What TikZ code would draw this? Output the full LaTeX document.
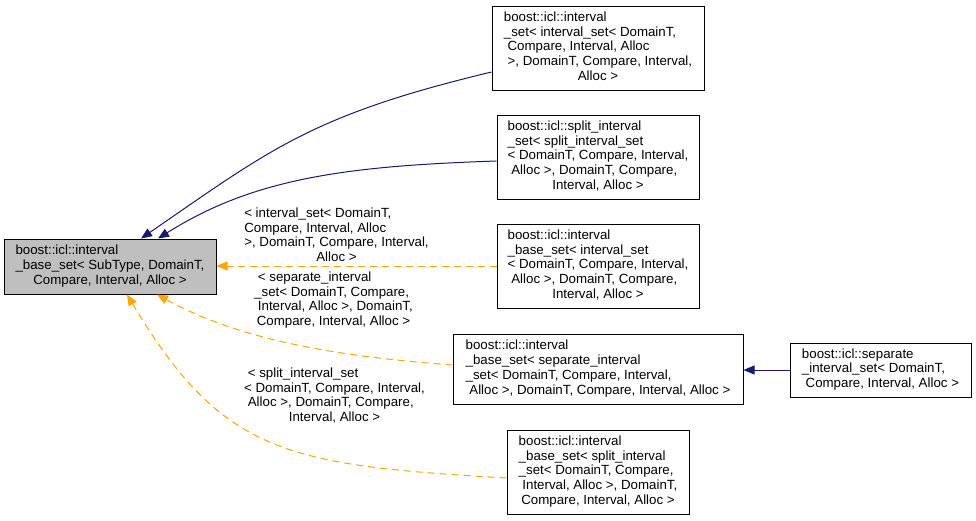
\documentclass[tikz,border=0pt]{standalone}
\usepackage{fontspec}
\setmainfont{Liberation Sans}
\usetikzlibrary{arrows.meta}
\definecolor{edgeblue}{HTML}{191970}
\definecolor{edgeorange}{HTML}{FFA500}
\definecolor{basegray}{HTML}{BFBFBF}
\newcommand{\lastrow}[1]{\multicolumn{1}{@{}c@{}}{#1}}
\begin{document}
\begin{tikzpicture}[x=1pt,y=-1pt,
  txt/.style={font=\fontsize{13.3}{14.8}\selectfont},
  cls/.style={txt, draw=black, line width=1pt, inner sep=0pt, fill=white},
  lbl/.style={txt, inner sep=0pt},
  pub/.style={draw=edgeblue, line width=1pt, -{Triangle[length=11pt,width=9pt]}},
  tmpl/.style={draw=edgeorange, line width=1pt, dash pattern=on 7pt off 5pt, -{Triangle[length=11pt,width=9pt]}}]
\useasboundingbox (0,0) rectangle (976,520);
\fill[white] (0,0) rectangle (976,520);

\node[cls, fill=basegray, minimum width=212pt, minimum height=55pt] (main) at (110,266.5)
 {\begin{tabular}{@{}l@{}}boost::icl::interval\\ \_base\_set< SubType, DomainT,\\ \lastrow{Compare, Interval, Alloc >}\end{tabular}};

\node[cls, minimum width=212pt, minimum height=84pt] (n1) at (598,48)
 {\begin{tabular}{@{}l@{}}boost::icl::interval\\ \_set< interval\_set< DomainT,\\ \ Compare, Interval, Alloc\\ \ >, DomainT, Compare, Interval,\\ \lastrow{Alloc >}\end{tabular}};

\node[cls, minimum width=202pt, minimum height=84pt] (n2) at (598,157)
 {\begin{tabular}{@{}l@{}}boost::icl::split\_interval\\ \_set< split\_interval\_set\\ < DomainT, Compare, Interval,\\ \ Alloc >, DomainT, Compare,\\ \lastrow{Interval, Alloc >}\end{tabular}};

\node[cls, minimum width=202pt, minimum height=84pt] (n3) at (598,266)
 {\begin{tabular}{@{}l@{}}boost::icl::interval\\ \_base\_set< interval\_set\\ < DomainT, Compare, Interval,\\ \ Alloc >, DomainT, Compare,\\ \lastrow{Interval, Alloc >}\end{tabular}};

\node[cls, minimum width=290pt, minimum height=70pt] (n4) at (598,369)
 {\begin{tabular}{@{}l@{}}boost::icl::interval\\ \_base\_set< separate\_interval\\ \_set< DomainT, Compare, Interval,\\ \ Alloc >, DomainT, Compare, Interval, Alloc >\end{tabular}};

\node[cls, minimum width=181pt, minimum height=54pt] (n5) at (880.5,370)
 {\begin{tabular}{@{}l@{}}boost::icl::separate\\ \_interval\_set< DomainT,\\ \ Compare, Interval, Alloc >\end{tabular}};

\node[cls, minimum width=182pt, minimum height=84pt] (n6) at (598,472)
 {\begin{tabular}{@{}l@{}}boost::icl::interval\\ \_base\_set< split\_interval\\ \_set< DomainT, Compare,\\ \ Interval, Alloc >, DomainT,\\ \lastrow{Compare, Interval, Alloc >}\end{tabular}};

\node[lbl] (l1) at (336.5,236.5)
 {\begin{tabular}{@{}l@{}}< interval\_set< DomainT,\\ Compare, Interval, Alloc\\ >, DomainT, Compare, Interval,\\ \lastrow{Alloc >}\end{tabular}};
\node[lbl] (l2) at (333.5,300.5)
 {\begin{tabular}{@{}l@{}}\ < separate\_interval\\ \_set< DomainT, Compare,\\ \ Interval, Alloc >, DomainT,\\ \lastrow{Compare, Interval, Alloc >}\end{tabular}};
\node[lbl] (l3) at (334.5,396.5)
 {\begin{tabular}{@{}l@{}}\ < split\_interval\_set\\ < DomainT, Compare, Interval,\\ \ Alloc >, DomainT, Compare,\\ \lastrow{Interval, Alloc >}\end{tabular}};

\draw[pub] ([yshift=-24pt]n1.west) .. controls (312,115) and (271,149) .. ([xshift=31pt]main.north);
\draw[pub] ([yshift=-4pt]n2.west) .. controls (347,166) and (254,178) .. ([xshift=48pt]main.north);
\draw[tmpl] (n3.west) -- (n3.west -| main.east);
\draw[tmpl] ([yshift=4pt]n4.west) .. controls (332,356) and (238,339) .. ([xshift=47pt]main.south);
\draw[tmpl] ([yshift=-6pt]n6.west) .. controls (287,465) and (223,455) .. ([xshift=17pt]main.south);
\draw[pub] (n5.west) -- (n5.west -| n4.east);
\end{tikzpicture}
\end{document}
